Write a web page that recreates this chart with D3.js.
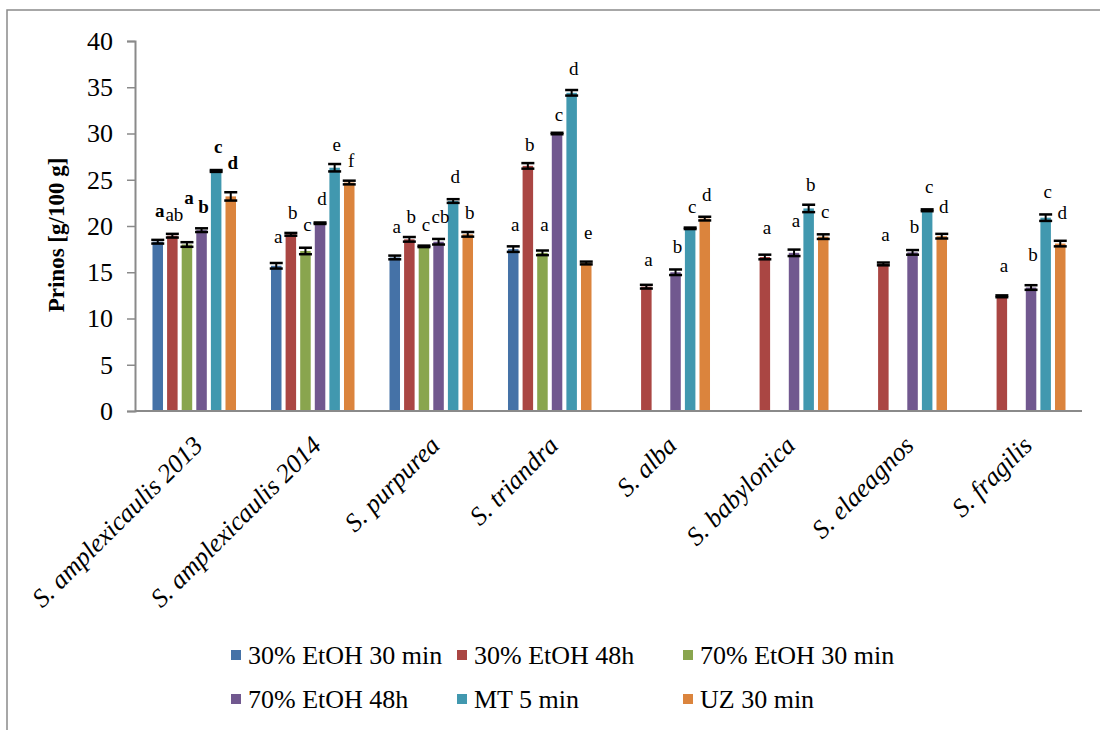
<!DOCTYPE html>
<html>
<head>
<meta charset="utf-8">
<script src="https://cdn.jsdelivr.net/npm/d3@7"></script>
<style>
  html, body { margin: 0; padding: 0; background: #fff; }
  svg { display: block; }
  text { font-family: "Liberation Serif", "Times New Roman", serif; fill: #000; }
</style>
</head>
<body>
<svg id="chart" width="1100" height="730"></svg>
<script>
// Willow samples (x categories)
const categories = [
  "S. amplexicaulis 2013", "S. amplexicaulis 2014", "S. purpurea", "S. triandra",
  "S. alba", "S. babylonica", "S. elaeagnos", "S. fragilis"
];

// Extraction methods (series)
const seriesNames = [
  "30% EtOH 30 min", "30% EtOH 48h", "70% EtOH 30 min",
  "70% EtOH 48h", "MT 5 min", "UZ 30 min"
];

// Yield, g/100 g (null = not measured)
const etoh30_30min = [18.3, 15.7, 16.6, 17.5, null, null, null, null];
const etoh30_48h   = [18.95, 19.1, 18.56, 26.5, 13.44, 16.65, 15.9, 12.4];
const etoh70_30min = [18.0, 17.3, 17.8, 17.1, null, null, null, null];
const etoh70_48h   = [19.55, 20.3, 18.3, 30.0, 15.0, 17.1, 17.15, 13.35];
const mt5min       = [25.95, 26.3, 22.7, 34.4, 19.75, 21.9, 21.7, 20.9];
const uz30min      = [23.2, 24.7, 19.1, 16.0, 20.8, 18.85, 18.9, 18.1];

// Standard deviations
const sd_etoh30_30min = [0.2, 0.3, 0.2, 0.3, null, null, null, null];
const sd_etoh30_48h   = [0.2, 0.15, 0.25, 0.3, 0.2, 0.25, 0.15, 0.1];
const sd_etoh70_30min = [0.25, 0.35, 0.08, 0.25, null, null, null, null];
const sd_etoh70_48h   = [0.2, 0.08, 0.3, 0.08, 0.3, 0.35, 0.25, 0.25];
const sd_mt5min       = [0.1, 0.4, 0.2, 0.3, 0.08, 0.4, 0.1, 0.35];
const sd_uz30min      = [0.45, 0.2, 0.25, 0.15, 0.2, 0.25, 0.25, 0.3];

// Significance letters
const let_etoh30_30min = ["a", "a", "a", "a", null, null, null, null];
const let_etoh30_48h   = ["ab", "b", "b", "b", "a", "a", "a", "a"];
const let_etoh70_30min = ["a", "c", "c", "a", null, null, null, null];
const let_etoh70_48h   = ["b", "d", "cb", "c", "b", "a", "b", "b"];
const let_mt5min       = ["c", "e", "d", "d", "c", "b", "c", "c"];
const let_uz30min      = ["d", "f", "b", "e", "d", "c", "d", "d"];

// Height (in axis units) at which each letter sits
const lety_etoh30_30min = [21.6, 18.8, 19.9, 20.1, null, null, null, null];
const lety_etoh30_48h   = [21.2, 21.45, 21.0, 28.75, 16.3, 19.8, 19.0, 15.7];
const lety_etoh70_30min = [23.0, 20.1, 20.1, 20.1, null, null, null, null];
const lety_etoh70_48h   = [22.05, 22.9, 21.0, 32.0, 17.7, 20.5, 19.9, 16.9];
const lety_mt5min       = [28.5, 28.75, 25.3, 37.0, 22.1, 24.4, 24.25, 23.7];
const lety_uz30min      = [26.8, 27.0, 21.4, 19.3, 23.4, 21.5, 22.1, 21.4];

// Letters printed in bold (first sample only): [series, category]
const boldLetters = [[0, 0], [2, 0], [3, 0], [4, 0], [5, 0]];

const yTicks = [0, 5, 10, 15, 20, 25, 30, 35, 40];
const yTitle = "Prinos [g/100 g]";

const colors = ["#4572A7", "#AA4643", "#89A54E", "#71588F", "#4198AF", "#DB843D"];

const values  = [etoh30_30min, etoh30_48h, etoh70_30min, etoh70_48h, mt5min, uz30min];
const sds     = [sd_etoh30_30min, sd_etoh30_48h, sd_etoh70_30min, sd_etoh70_48h, sd_mt5min, sd_uz30min];
const letters = [let_etoh30_30min, let_etoh30_48h, let_etoh70_30min, let_etoh70_48h, let_mt5min, let_uz30min];
const letterY = [lety_etoh30_30min, lety_etoh30_48h, lety_etoh70_30min, lety_etoh70_48h, lety_mt5min, lety_uz30min];

const svg = d3.select("#chart");
const axisColor = "#8a8a8a";

// chart-area frame
svg.append("rect")
  .attr("x", 7).attr("y", 10)
  .attr("width", 1200).attr("height", 800)
  .attr("fill", "none").attr("stroke", axisColor).attr("stroke-width", 1.5);

const plot = { left: 135, right: 1083, top: 41, bottom: 411 };

const y = d3.scaleLinear().domain([0, 40]).range([plot.bottom, plot.top]);
const x0 = d3.scaleBand().domain(categories).range([plot.left, plot.right]).padding(0);

const step = 14.6, pIn = 0.28;
const groupW = step * (seriesNames.length - pIn);
const x1 = d3.scaleBand().domain(d3.range(seriesNames.length))
  .range([0, groupW]).paddingInner(pIn).paddingOuter(0);
const groupOffset = c => x0(c) + x0.bandwidth() / 2 - groupW / 2;

// y axis
const yAxis = d3.axisLeft(y).tickValues(yTicks).tickSize(8).tickPadding(14);
const gy = svg.append("g").attr("transform", `translate(${plot.left},0)`).call(yAxis);
gy.select(".domain").attr("stroke", axisColor).attr("stroke-width", 2);
gy.selectAll(".tick line").attr("stroke", axisColor).attr("stroke-width", 1.5);
gy.selectAll(".tick text")
  .attr("font-family", "'Liberation Serif', 'Times New Roman', serif")
  .attr("font-size", 26).attr("fill", "#000");

// y title
svg.append("text")
  .attr("transform", `translate(64,235) rotate(-90)`)
  .attr("text-anchor", "middle")
  .attr("font-size", 23).attr("font-weight", "bold")
  .text(yTitle);

// flattened bar records
const records = [];
values.forEach((arr, s) => arr.forEach((v, c) => {
  if (v != null) records.push({ s, c, v, sd: sds[s][c], letter: letters[s][c], ly: letterY[s][c] });
}));

// bars
svg.append("g").selectAll("rect").data(records).join("rect")
  .attr("x", d => groupOffset(categories[d.c]) + x1(d.s))
  .attr("y", d => y(d.v))
  .attr("width", x1.bandwidth())
  .attr("height", d => y(0) - y(d.v))
  .attr("fill", d => colors[d.s]);

// x axis line
svg.append("line")
  .attr("x1", plot.left).attr("x2", plot.right - 1)
  .attr("y1", plot.bottom).attr("y2", plot.bottom)
  .attr("stroke", axisColor).attr("stroke-width", 2);

// error bars
const eb = svg.append("g").attr("stroke", "#000").attr("stroke-width", 2);
const capHalf = 6.5;
records.forEach(d => {
  const cx = groupOffset(categories[d.c]) + x1(d.s) + x1.bandwidth() / 2;
  const yt = y(d.v + d.sd), yb = y(d.v - d.sd);
  eb.append("line").attr("x1", cx).attr("x2", cx).attr("y1", yt).attr("y2", yb);
  eb.append("line").attr("x1", cx - capHalf).attr("x2", cx + capHalf).attr("y1", yt).attr("y2", yt).attr("stroke-width", 2.5);
  eb.append("line").attr("x1", cx - capHalf).attr("x2", cx + capHalf).attr("y1", yb).attr("y2", yb).attr("stroke-width", 2.5);
});

// significance letters
const isBold = d => boldLetters.some(([s, c]) => s === d.s && c === d.c);
svg.append("g").selectAll("text").data(records.filter(d => d.letter)).join("text")
  .attr("x", d => groupOffset(categories[d.c]) + x1(d.s) + x1.bandwidth() / 2 + 2)
  .attr("y", d => y(d.ly))
  .attr("dy", "0.32em")
  .attr("text-anchor", "middle")
  .attr("font-size", 19)
  .attr("font-weight", d => isBold(d) ? "bold" : "normal")
  .text(d => d.letter);

// category labels
svg.append("g").selectAll("text").data(categories).join("text")
  .attr("transform", c => `translate(${x0(c) + x0.bandwidth() / 2 + 10},447) rotate(-45)`)
  .attr("text-anchor", "end")
  .attr("font-size", 26)
  .attr("font-style", "italic")
  .text(c => c);

// legend
const legendCols = [248, 474, 700];
const legendRows = [655, 699];
const lg = svg.append("g").selectAll("g").data(seriesNames).join("g")
  .attr("transform", (d, i) => `translate(${legendCols[i % 3]},${legendRows[Math.floor(i / 3)]})`);
lg.append("rect").attr("x", -17).attr("y", -5).attr("width", 10).attr("height", 10)
  .attr("fill", (d, i) => colors[i]);
lg.append("text").attr("x", 0).attr("dy", "0.35em").attr("font-size", 26).text(d => d);
</script>
</body>
</html>
